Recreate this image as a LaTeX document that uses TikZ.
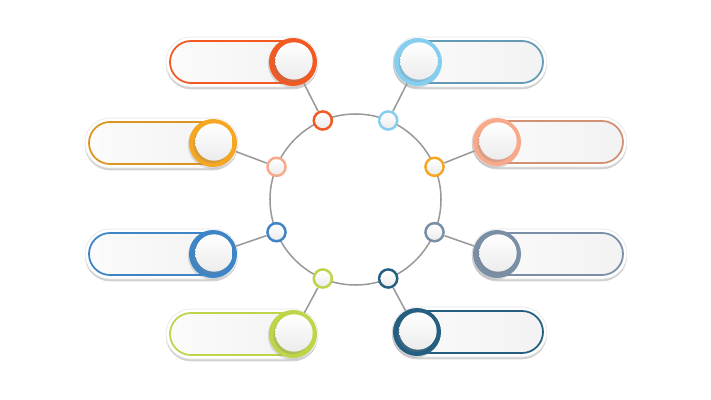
\documentclass[tikz,border=0pt]{standalone}
\usepackage{tikz}
\usetikzlibrary{shadows}
\definecolor{flame}{HTML}{F15A22}
\definecolor{sky}{HTML}{86CEF0}
\definecolor{amber}{HTML}{F5A623}
\definecolor{salmon}{HTML}{F7A98A}
\definecolor{ocean}{HTML}{3D85C6}
\definecolor{slate}{HTML}{7A8FA6}
\definecolor{lime}{HTML}{BED449}
\definecolor{navy}{HTML}{245E80}
\tikzset{
	pillrim/.style={fill=white, draw=gray!20, line width=0.5pt, rounded corners=0.75cm,
		drop shadow={shadow xshift=0pt, shadow yshift=-2pt, opacity=0.35}},
	pill/.style={line width=1.5pt, rounded corners=0.63cm, left color=gray!3, right color=gray!10},
	bigring/.style={circle, minimum size=1.44cm, inner sep=0pt, fill=#1,
		drop shadow={shadow xshift=-1pt, shadow yshift=-1.5pt, opacity=0.25}},
	bigdisc/.style={circle, minimum size=1.12cm, inner sep=0pt, top color=white, bottom color=gray!15,
		drop shadow={shadow xshift=-1.5pt, shadow yshift=-2pt, opacity=0.25}},
	dot/.style={circle, minimum size=0.62cm, inner sep=0pt, fill=#1},
	dotdisc/.style={circle, minimum size=0.46cm, inner sep=0pt, top color=white, bottom color=gray!15},
	link/.style={gray!80, line width=1.3pt}
}
\begin{document}
\begin{tikzpicture}[x=0.03cm, y=-0.03cm]
	
	\fill[white] (0,0) rectangle (711,400);
	\useasboundingbox (0,0) rectangle (711,400);
	
	\coordinate (ctr) at (355.5,199.5);
	\draw[link] (ctr) circle (85.5);
	
	\draw[pillrim] (166,37) rectangle (318,87);
	\draw[pill, draw=flame] (170,41) rectangle (314,83);
	\draw[pillrim] (85,118) rectangle (238,168);
	\draw[pill, draw=amber!90!black] (89,122) rectangle (234,164);
	\draw[pillrim] (85,229) rectangle (238,279);
	\draw[pill, draw=ocean] (89,233) rectangle (234,275);
	\draw[pillrim] (166,309) rectangle (318,359);
	\draw[pill, draw=lime] (170,313) rectangle (314,355);
	\draw[pillrim] (393,37) rectangle (547,87);
	\draw[pill, draw=sky!75!black] (397,41) rectangle (543,83);
	\draw[pillrim] (472,117) rectangle (627,167);
	\draw[pill, draw=salmon!85!black] (476,121) rectangle (623,163);
	\draw[pillrim] (472,229) rectangle (627,279);
	\draw[pill, draw=slate] (476,233) rectangle (623,275);
	\draw[pillrim] (392,307) rectangle (547,357);
	\draw[pill, draw=navy] (396,311) rectangle (543,353);
	
	\node[bigring=flame] (b1) at (293,62) {};
	\node[bigring=amber] (b2) at (213,143) {};
	\node[bigring=ocean] (b3) at (213,254) {};
	\node[bigring=lime] (b4) at (293,334) {};
	\node[bigring=sky] (b5) at (418,62) {};
	\node[bigring=salmon] (b6) at (497,142) {};
	\node[bigring=slate] (b7) at (497,254) {};
	\node[bigring=navy] (b8) at (417,332) {};
	\node[bigdisc] at ([shift={(1,-1)}]b1) {};
	\node[bigdisc] at ([shift={(1,-1)}]b2) {};
	\node[bigdisc] at ([shift={(1,-1)}]b3) {};
	\node[bigdisc] at ([shift={(1,-1)}]b4) {};
	\node[bigdisc] at ([shift={(1,-1)}]b5) {};
	\node[bigdisc] at ([shift={(1,-1)}]b6) {};
	\node[bigdisc] at ([shift={(1,-1)}]b7) {};
	\node[bigdisc] at ([shift={(1,-1)}]b8) {};
	
	\node[dot=flame] (d1) at (322.8,120.5) {};
	\node[dot=sky] (d2) at (388.2,120.5) {};
	\node[dot=salmon] (d3) at (276.5,166.8) {};
	\node[dot=amber] (d4) at (434.5,166.8) {};
	\node[dot=ocean] (d5) at (276.5,232.2) {};
	\node[dot=slate] (d6) at (434.5,232.2) {};
	\node[dot=lime] (d7) at (322.8,278.5) {};
	\node[dot=navy] (d8) at (388.2,278.5) {};
	\node[dotdisc] at (d1) {};
	\node[dotdisc] at (d2) {};
	\node[dotdisc] at (d3) {};
	\node[dotdisc] at (d4) {};
	\node[dotdisc] at (d5) {};
	\node[dotdisc] at (d6) {};
	\node[dotdisc] at (d7) {};
	\node[dotdisc] at (d8) {};
	
	\draw[link] (d1) -- (b1);
	\draw[link] (d2) -- (b5);
	\draw[link] (d3) -- (b2);
	\draw[link] (d4) -- (b6);
	\draw[link] (d5) -- (b3);
	\draw[link] (d6) -- (b7);
	\draw[link] (d7) -- (b4);
	\draw[link] (d8) -- (b8);
	
\end{tikzpicture}
\end{document}
